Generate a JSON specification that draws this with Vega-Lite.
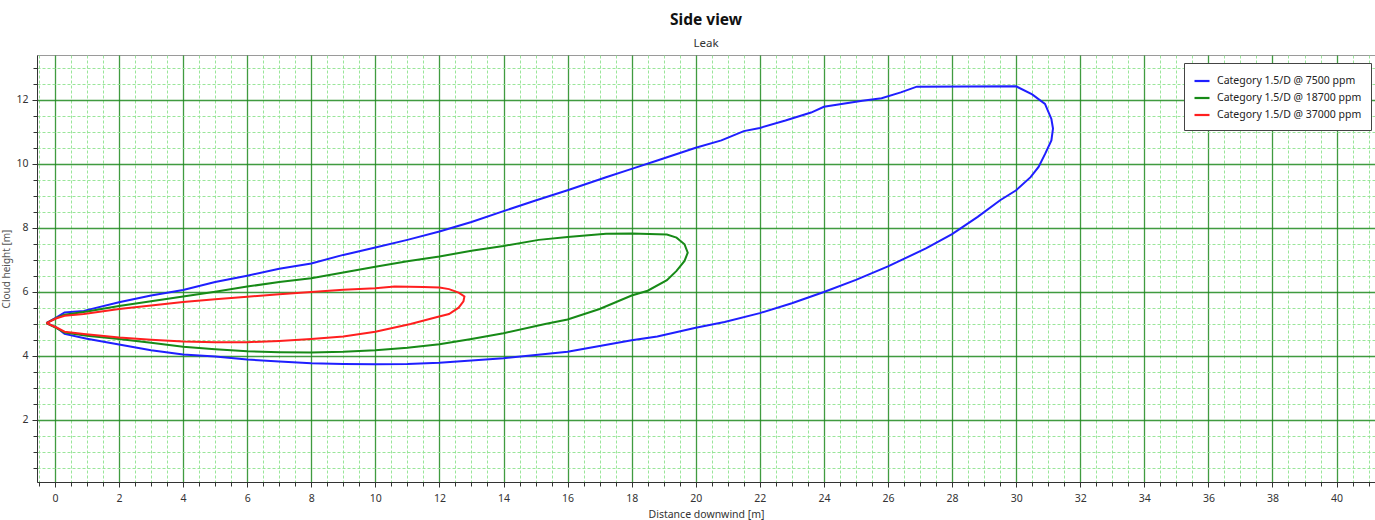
{
  "$schema": "https://vega.github.io/schema/vega-lite/v6.json",
  "width": 1338,
  "height": 427,
  "autosize": {"type": "none"},
  "padding": {"left": 37, "top": 55, "right": 0, "bottom": 38},
  "title": {"text": "Side view", "subtitle": "Leak", "fontSize": 15.5, "fontWeight": "bold", "font": "Noto Sans", "subtitleFont": "Noto Sans", "subtitleFontSize": 11.5, "subtitleColor": "#333333", "anchor": "middle", "offset": 6, "subtitlePadding": 9, "color": "#111111"},
  "config": {
    "view": {"stroke": "#9a9a9a", "strokeWidth": 1},
    "font": "Noto Sans"
  },
  "data": {"values": [
    {"s":"Category 1.5/D @ 7500 ppm","i":0,"x":-0.27,"y":5.02},
    {"s":"Category 1.5/D @ 7500 ppm","i":1,"x":0.05,"y":5.2},
    {"s":"Category 1.5/D @ 7500 ppm","i":2,"x":0.3,"y":5.35},
    {"s":"Category 1.5/D @ 7500 ppm","i":3,"x":0.9,"y":5.4},
    {"s":"Category 1.5/D @ 7500 ppm","i":4,"x":2,"y":5.67},
    {"s":"Category 1.5/D @ 7500 ppm","i":5,"x":3,"y":5.88},
    {"s":"Category 1.5/D @ 7500 ppm","i":6,"x":4,"y":6.05},
    {"s":"Category 1.5/D @ 7500 ppm","i":7,"x":5,"y":6.3},
    {"s":"Category 1.5/D @ 7500 ppm","i":8,"x":6,"y":6.5},
    {"s":"Category 1.5/D @ 7500 ppm","i":9,"x":7,"y":6.72},
    {"s":"Category 1.5/D @ 7500 ppm","i":10,"x":8,"y":6.88},
    {"s":"Category 1.5/D @ 7500 ppm","i":11,"x":9,"y":7.15},
    {"s":"Category 1.5/D @ 7500 ppm","i":12,"x":10,"y":7.38},
    {"s":"Category 1.5/D @ 7500 ppm","i":13,"x":11,"y":7.62},
    {"s":"Category 1.5/D @ 7500 ppm","i":14,"x":12,"y":7.88},
    {"s":"Category 1.5/D @ 7500 ppm","i":15,"x":13,"y":8.18},
    {"s":"Category 1.5/D @ 7500 ppm","i":16,"x":14,"y":8.52},
    {"s":"Category 1.5/D @ 7500 ppm","i":17,"x":15,"y":8.85},
    {"s":"Category 1.5/D @ 7500 ppm","i":18,"x":16,"y":9.17},
    {"s":"Category 1.5/D @ 7500 ppm","i":19,"x":17.2,"y":9.58},
    {"s":"Category 1.5/D @ 7500 ppm","i":20,"x":18,"y":9.84},
    {"s":"Category 1.5/D @ 7500 ppm","i":21,"x":18.8,"y":10.1},
    {"s":"Category 1.5/D @ 7500 ppm","i":22,"x":20,"y":10.5},
    {"s":"Category 1.5/D @ 7500 ppm","i":23,"x":20.8,"y":10.73},
    {"s":"Category 1.5/D @ 7500 ppm","i":24,"x":21.5,"y":11.02},
    {"s":"Category 1.5/D @ 7500 ppm","i":25,"x":22,"y":11.12},
    {"s":"Category 1.5/D @ 7500 ppm","i":26,"x":22.8,"y":11.35},
    {"s":"Category 1.5/D @ 7500 ppm","i":27,"x":23.6,"y":11.6},
    {"s":"Category 1.5/D @ 7500 ppm","i":28,"x":24,"y":11.78},
    {"s":"Category 1.5/D @ 7500 ppm","i":29,"x":25.2,"y":11.97},
    {"s":"Category 1.5/D @ 7500 ppm","i":30,"x":25.8,"y":12.05},
    {"s":"Category 1.5/D @ 7500 ppm","i":31,"x":26.4,"y":12.23},
    {"s":"Category 1.5/D @ 7500 ppm","i":32,"x":26.9,"y":12.41},
    {"s":"Category 1.5/D @ 7500 ppm","i":33,"x":30.0,"y":12.42},
    {"s":"Category 1.5/D @ 7500 ppm","i":34,"x":30.5,"y":12.17},
    {"s":"Category 1.5/D @ 7500 ppm","i":35,"x":30.9,"y":11.87},
    {"s":"Category 1.5/D @ 7500 ppm","i":36,"x":31.1,"y":11.4},
    {"s":"Category 1.5/D @ 7500 ppm","i":37,"x":31.15,"y":11.1},
    {"s":"Category 1.5/D @ 7500 ppm","i":38,"x":31.1,"y":10.73},
    {"s":"Category 1.5/D @ 7500 ppm","i":39,"x":30.9,"y":10.3},
    {"s":"Category 1.5/D @ 7500 ppm","i":40,"x":30.7,"y":9.9},
    {"s":"Category 1.5/D @ 7500 ppm","i":41,"x":30.45,"y":9.58},
    {"s":"Category 1.5/D @ 7500 ppm","i":42,"x":30.0,"y":9.17},
    {"s":"Category 1.5/D @ 7500 ppm","i":43,"x":29.5,"y":8.86},
    {"s":"Category 1.5/D @ 7500 ppm","i":44,"x":28.8,"y":8.34},
    {"s":"Category 1.5/D @ 7500 ppm","i":45,"x":28,"y":7.8},
    {"s":"Category 1.5/D @ 7500 ppm","i":46,"x":27.2,"y":7.36},
    {"s":"Category 1.5/D @ 7500 ppm","i":47,"x":26,"y":6.79},
    {"s":"Category 1.5/D @ 7500 ppm","i":48,"x":25,"y":6.37},
    {"s":"Category 1.5/D @ 7500 ppm","i":49,"x":24,"y":5.99},
    {"s":"Category 1.5/D @ 7500 ppm","i":50,"x":23,"y":5.64},
    {"s":"Category 1.5/D @ 7500 ppm","i":51,"x":22,"y":5.33},
    {"s":"Category 1.5/D @ 7500 ppm","i":52,"x":20.9,"y":5.05},
    {"s":"Category 1.5/D @ 7500 ppm","i":53,"x":20,"y":4.87},
    {"s":"Category 1.5/D @ 7500 ppm","i":54,"x":18.8,"y":4.6},
    {"s":"Category 1.5/D @ 7500 ppm","i":55,"x":18,"y":4.48},
    {"s":"Category 1.5/D @ 7500 ppm","i":56,"x":17,"y":4.3},
    {"s":"Category 1.5/D @ 7500 ppm","i":57,"x":16,"y":4.12},
    {"s":"Category 1.5/D @ 7500 ppm","i":58,"x":15,"y":4.02},
    {"s":"Category 1.5/D @ 7500 ppm","i":59,"x":14,"y":3.92},
    {"s":"Category 1.5/D @ 7500 ppm","i":60,"x":13,"y":3.85},
    {"s":"Category 1.5/D @ 7500 ppm","i":61,"x":12,"y":3.78},
    {"s":"Category 1.5/D @ 7500 ppm","i":62,"x":11,"y":3.74},
    {"s":"Category 1.5/D @ 7500 ppm","i":63,"x":10,"y":3.73},
    {"s":"Category 1.5/D @ 7500 ppm","i":64,"x":9,"y":3.74},
    {"s":"Category 1.5/D @ 7500 ppm","i":65,"x":8,"y":3.76},
    {"s":"Category 1.5/D @ 7500 ppm","i":66,"x":7,"y":3.82},
    {"s":"Category 1.5/D @ 7500 ppm","i":67,"x":6,"y":3.88},
    {"s":"Category 1.5/D @ 7500 ppm","i":68,"x":5,"y":3.97},
    {"s":"Category 1.5/D @ 7500 ppm","i":69,"x":4,"y":4.04},
    {"s":"Category 1.5/D @ 7500 ppm","i":70,"x":3,"y":4.17},
    {"s":"Category 1.5/D @ 7500 ppm","i":71,"x":2,"y":4.35},
    {"s":"Category 1.5/D @ 7500 ppm","i":72,"x":1,"y":4.53},
    {"s":"Category 1.5/D @ 7500 ppm","i":73,"x":0.3,"y":4.68},
    {"s":"Category 1.5/D @ 7500 ppm","i":74,"x":0.05,"y":4.88},
    {"s":"Category 1.5/D @ 7500 ppm","i":75,"x":-0.27,"y":5.02},
    {"s":"Category 1.5/D @ 18700 ppm","i":0,"x":-0.27,"y":5.02},
    {"s":"Category 1.5/D @ 18700 ppm","i":1,"x":0.05,"y":5.18},
    {"s":"Category 1.5/D @ 18700 ppm","i":2,"x":0.3,"y":5.28},
    {"s":"Category 1.5/D @ 18700 ppm","i":3,"x":1,"y":5.38},
    {"s":"Category 1.5/D @ 18700 ppm","i":4,"x":2,"y":5.55},
    {"s":"Category 1.5/D @ 18700 ppm","i":5,"x":3,"y":5.7},
    {"s":"Category 1.5/D @ 18700 ppm","i":6,"x":4,"y":5.85},
    {"s":"Category 1.5/D @ 18700 ppm","i":7,"x":5,"y":6.0},
    {"s":"Category 1.5/D @ 18700 ppm","i":8,"x":6,"y":6.16},
    {"s":"Category 1.5/D @ 18700 ppm","i":9,"x":7,"y":6.3},
    {"s":"Category 1.5/D @ 18700 ppm","i":10,"x":8,"y":6.42},
    {"s":"Category 1.5/D @ 18700 ppm","i":11,"x":9,"y":6.6},
    {"s":"Category 1.5/D @ 18700 ppm","i":12,"x":10,"y":6.78},
    {"s":"Category 1.5/D @ 18700 ppm","i":13,"x":11,"y":6.95},
    {"s":"Category 1.5/D @ 18700 ppm","i":14,"x":12,"y":7.1},
    {"s":"Category 1.5/D @ 18700 ppm","i":15,"x":13,"y":7.28},
    {"s":"Category 1.5/D @ 18700 ppm","i":16,"x":14,"y":7.43},
    {"s":"Category 1.5/D @ 18700 ppm","i":17,"x":15.1,"y":7.62},
    {"s":"Category 1.5/D @ 18700 ppm","i":18,"x":16,"y":7.71},
    {"s":"Category 1.5/D @ 18700 ppm","i":19,"x":17.2,"y":7.81},
    {"s":"Category 1.5/D @ 18700 ppm","i":20,"x":18,"y":7.82},
    {"s":"Category 1.5/D @ 18700 ppm","i":21,"x":19.1,"y":7.79},
    {"s":"Category 1.5/D @ 18700 ppm","i":22,"x":19.4,"y":7.69},
    {"s":"Category 1.5/D @ 18700 ppm","i":23,"x":19.65,"y":7.48},
    {"s":"Category 1.5/D @ 18700 ppm","i":24,"x":19.75,"y":7.22},
    {"s":"Category 1.5/D @ 18700 ppm","i":25,"x":19.65,"y":6.96},
    {"s":"Category 1.5/D @ 18700 ppm","i":26,"x":19.4,"y":6.65},
    {"s":"Category 1.5/D @ 18700 ppm","i":27,"x":19.1,"y":6.36},
    {"s":"Category 1.5/D @ 18700 ppm","i":28,"x":18.5,"y":6.03},
    {"s":"Category 1.5/D @ 18700 ppm","i":29,"x":18,"y":5.88},
    {"s":"Category 1.5/D @ 18700 ppm","i":30,"x":17,"y":5.46},
    {"s":"Category 1.5/D @ 18700 ppm","i":31,"x":16,"y":5.13},
    {"s":"Category 1.5/D @ 18700 ppm","i":32,"x":15.3,"y":4.99},
    {"s":"Category 1.5/D @ 18700 ppm","i":33,"x":14,"y":4.7},
    {"s":"Category 1.5/D @ 18700 ppm","i":34,"x":13,"y":4.52},
    {"s":"Category 1.5/D @ 18700 ppm","i":35,"x":12,"y":4.36},
    {"s":"Category 1.5/D @ 18700 ppm","i":36,"x":11,"y":4.25},
    {"s":"Category 1.5/D @ 18700 ppm","i":37,"x":10,"y":4.17},
    {"s":"Category 1.5/D @ 18700 ppm","i":38,"x":9,"y":4.12},
    {"s":"Category 1.5/D @ 18700 ppm","i":39,"x":8,"y":4.1},
    {"s":"Category 1.5/D @ 18700 ppm","i":40,"x":7,"y":4.11},
    {"s":"Category 1.5/D @ 18700 ppm","i":41,"x":6,"y":4.14},
    {"s":"Category 1.5/D @ 18700 ppm","i":42,"x":5,"y":4.2},
    {"s":"Category 1.5/D @ 18700 ppm","i":43,"x":4,"y":4.28},
    {"s":"Category 1.5/D @ 18700 ppm","i":44,"x":3,"y":4.4},
    {"s":"Category 1.5/D @ 18700 ppm","i":45,"x":2,"y":4.52},
    {"s":"Category 1.5/D @ 18700 ppm","i":46,"x":1,"y":4.62},
    {"s":"Category 1.5/D @ 18700 ppm","i":47,"x":0.3,"y":4.72},
    {"s":"Category 1.5/D @ 18700 ppm","i":48,"x":0.05,"y":4.86},
    {"s":"Category 1.5/D @ 18700 ppm","i":49,"x":-0.27,"y":5.02},
    {"s":"Category 1.5/D @ 37000 ppm","i":0,"x":-0.27,"y":5.02},
    {"s":"Category 1.5/D @ 37000 ppm","i":1,"x":0.05,"y":5.17},
    {"s":"Category 1.5/D @ 37000 ppm","i":2,"x":0.3,"y":5.25},
    {"s":"Category 1.5/D @ 37000 ppm","i":3,"x":0.9,"y":5.3},
    {"s":"Category 1.5/D @ 37000 ppm","i":4,"x":2,"y":5.46},
    {"s":"Category 1.5/D @ 37000 ppm","i":5,"x":3,"y":5.57},
    {"s":"Category 1.5/D @ 37000 ppm","i":6,"x":4,"y":5.68},
    {"s":"Category 1.5/D @ 37000 ppm","i":7,"x":5,"y":5.76},
    {"s":"Category 1.5/D @ 37000 ppm","i":8,"x":6,"y":5.84},
    {"s":"Category 1.5/D @ 37000 ppm","i":9,"x":7,"y":5.92},
    {"s":"Category 1.5/D @ 37000 ppm","i":10,"x":8,"y":5.99},
    {"s":"Category 1.5/D @ 37000 ppm","i":11,"x":9,"y":6.06},
    {"s":"Category 1.5/D @ 37000 ppm","i":12,"x":10,"y":6.11},
    {"s":"Category 1.5/D @ 37000 ppm","i":13,"x":10.6,"y":6.16},
    {"s":"Category 1.5/D @ 37000 ppm","i":14,"x":11.5,"y":6.15},
    {"s":"Category 1.5/D @ 37000 ppm","i":15,"x":12,"y":6.13},
    {"s":"Category 1.5/D @ 37000 ppm","i":16,"x":12.3,"y":6.08},
    {"s":"Category 1.5/D @ 37000 ppm","i":17,"x":12.6,"y":5.97},
    {"s":"Category 1.5/D @ 37000 ppm","i":18,"x":12.78,"y":5.85},
    {"s":"Category 1.5/D @ 37000 ppm","i":19,"x":12.75,"y":5.7},
    {"s":"Category 1.5/D @ 37000 ppm","i":20,"x":12.6,"y":5.5},
    {"s":"Category 1.5/D @ 37000 ppm","i":21,"x":12.3,"y":5.3},
    {"s":"Category 1.5/D @ 37000 ppm","i":22,"x":11.9,"y":5.2},
    {"s":"Category 1.5/D @ 37000 ppm","i":23,"x":11.1,"y":4.99},
    {"s":"Category 1.5/D @ 37000 ppm","i":24,"x":10,"y":4.75},
    {"s":"Category 1.5/D @ 37000 ppm","i":25,"x":9,"y":4.6},
    {"s":"Category 1.5/D @ 37000 ppm","i":26,"x":8,"y":4.52},
    {"s":"Category 1.5/D @ 37000 ppm","i":27,"x":7,"y":4.46},
    {"s":"Category 1.5/D @ 37000 ppm","i":28,"x":6,"y":4.42},
    {"s":"Category 1.5/D @ 37000 ppm","i":29,"x":5,"y":4.42},
    {"s":"Category 1.5/D @ 37000 ppm","i":30,"x":4,"y":4.44},
    {"s":"Category 1.5/D @ 37000 ppm","i":31,"x":3,"y":4.5},
    {"s":"Category 1.5/D @ 37000 ppm","i":32,"x":2,"y":4.57},
    {"s":"Category 1.5/D @ 37000 ppm","i":33,"x":0.9,"y":4.68},
    {"s":"Category 1.5/D @ 37000 ppm","i":34,"x":0.3,"y":4.75},
    {"s":"Category 1.5/D @ 37000 ppm","i":35,"x":0.05,"y":4.88},
    {"s":"Category 1.5/D @ 37000 ppm","i":36,"x":-0.27,"y":5.02}
  ]},
  "layer": [
    {
      "mark": {"type": "line", "opacity": 0},
      "encoding": {
        "x": {"field": "x", "type": "quantitative",
          "scale": {"domain": [-0.56, 41.2], "nice": false, "zero": false},
          "axis": {"orient": "bottom", "values": [-0.5,0.5,1,1.5,2.5,3,3.5,4.5,5,5.5,6.5,7,7.5,8.5,9,9.5,10.5,11,11.5,12.5,13,13.5,14.5,15,15.5,16.5,17,17.5,18.5,19,19.5,20.5,21,21.5,22.5,23,23.5,24.5,25,25.5,26.5,27,27.5,28.5,29,29.5,30.5,31,31.5,32.5,33,33.5,34.5,35,35.5,36.5,37,37.5,38.5,39,39.5,40.5,41],
            "grid": true, "gridColor": "#8fe38f", "gridDash": [3, 2], "gridWidth": 1, "gridOpacity": 0.9,
            "labels": false, "ticks": true, "tickSize": 4, "tickColor": "#333333", "domain": false, "title": null}},
        "y": {"field": "y", "type": "quantitative",
          "scale": {"domain": [0.05, 13.4], "nice": false, "zero": false},
          "axis": {"orient": "left", "values": [0.5,1,1.5,2.5,3,3.5,4.5,5,5.5,6.5,7,7.5,8.5,9,9.5,10.5,11,11.5,12.5,13],
            "grid": true, "gridColor": "#8fe38f", "gridDash": [3, 2], "gridWidth": 1, "gridOpacity": 0.9,
            "labels": false, "ticks": true, "tickSize": 4, "tickColor": "#333333", "domain": false, "title": null}},
        "detail": {"field": "s"},
        "order": {"field": "i", "type": "quantitative"}
      }
    },
    {
      "mark": {"type": "line", "strokeWidth": 2, "interpolate": "linear"},
      "encoding": {
        "x": {"field": "x", "type": "quantitative",
          "scale": {"domain": [-0.56, 41.2], "nice": false, "zero": false},
          "axis": {"orient": "bottom", "values": [0,2,4,6,8,10,12,14,16,18,20,22,24,26,28,30,32,34,36,38,40],
            "grid": true, "gridColor": "#1f8a1f", "gridWidth": 1.3, "gridOpacity": 0.85,
            "ticks": true, "tickSize": 5, "tickColor": "#333333", "domain": true, "domainColor": "#333333",
            "labelFontSize": 10.5, "labelColor": "#333333", "labelPadding": 6, "labelFont": "Noto Sans",
            "title": "Distance downwind [m]", "titleFontSize": 10.5, "titleFontWeight": "normal", "titleColor": "#333333", "titlePadding": 6, "titleFont": "Noto Sans"}},
        "y": {"field": "y", "type": "quantitative",
          "scale": {"domain": [0.05, 13.4], "nice": false, "zero": false},
          "axis": {"orient": "left", "values": [2,4,6,8,10,12],
            "grid": true, "gridColor": "#1f8a1f", "gridWidth": 1.3, "gridOpacity": 0.85,
            "ticks": true, "tickSize": 5, "tickColor": "#333333", "domain": true, "domainColor": "#333333",
            "labelFontSize": 10.5, "labelColor": "#333333", "labelPadding": 4, "labelFont": "Noto Sans",
            "title": "Cloud height [m]", "titleFontSize": 10, "titleFontWeight": "normal", "titleColor": "#555555", "titlePadding": 4, "titleFont": "Noto Sans"}},
        "color": {"field": "s", "type": "nominal",
          "scale": {"domain": ["Category 1.5/D @ 7500 ppm", "Category 1.5/D @ 18700 ppm", "Category 1.5/D @ 37000 ppm"], "range": ["#1f1fff", "#178a17", "#ff1f1f"]},
          "legend": {"orient": "none", "legendX": 1147, "legendY": 8, "title": null, "fillColor": "#ffffff", "strokeColor": "#444444", "padding": 9,
            "symbolType": "stroke", "symbolSize": 225, "symbolStrokeWidth": 2.2, "labelFontSize": 10.5, "labelFont": "Noto Sans", "labelColor": "#222222", "rowPadding": 2, "labelOffset": 6}},
        "order": {"field": "i", "type": "quantitative"}
      }
    }
  ],
  "resolve": {"axis": {"x": "independent", "y": "independent"}}
}
